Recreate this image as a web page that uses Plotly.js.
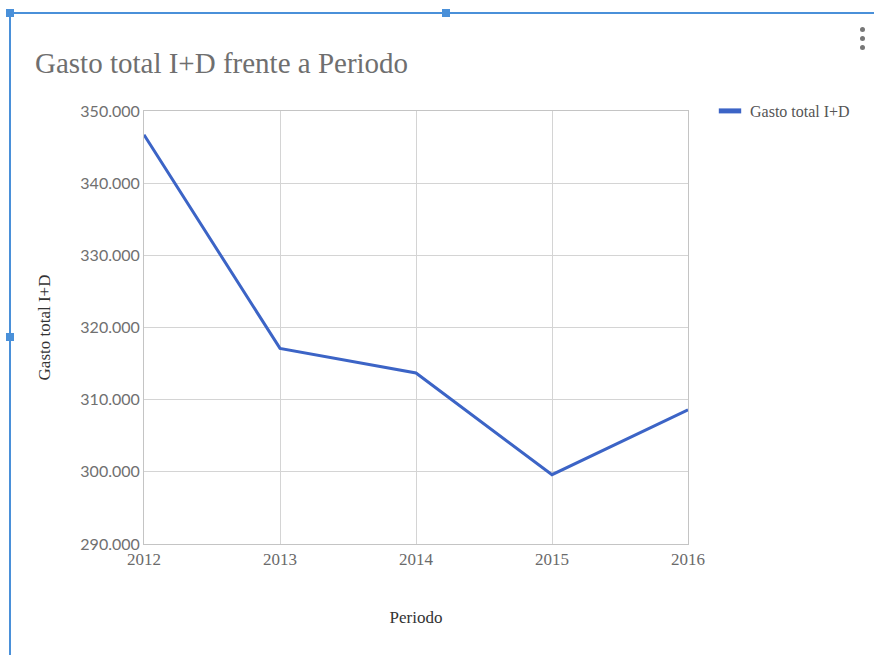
<!DOCTYPE html>
<html>
<head>
<meta charset="utf-8">
<script src="https://cdn.plot.ly/plotly-3.0.1.min.js"></script>
<style>html,body{margin:0;padding:0;background:#fff;}#chart{width:874px;height:655px;}</style>
</head>
<body>
<div id="chart"></div>
<script>
var periodos = [2012, 2013, 2014, 2015, 2016];
var gastoTotal = [346700, 317100, 313700, 299600, 308600];
var serieNombre = "Gasto total I+D";
var tituloGrafico = "Gasto total I+D frente a Periodo";
var tituloX = "Periodo";
var tituloY = "Gasto total I+D";

var serieColor = "#3c64c6";

var trace = {
  x: periodos,
  y: gastoTotal,
  type: "scatter",
  mode: "lines",
  name: serieNombre,
  showlegend: false,
  line: {color: serieColor, width: 3}
};

var legendTrace = {
  x: [null],
  y: [null],
  type: "scatter",
  mode: "markers",
  name: serieNombre,
  showlegend: true,
  marker: {symbol: "line-ew", size: 16, color: serieColor, line: {color: serieColor, width: 5}}
};

var serif = "'Liberation Serif', 'Times New Roman', serif";
var frame = "#4a90d9";

function px(xPix) { return (xPix - 144) / 544; }
function py(yPix) { return (544 - yPix) / 433; }

var layout = {
  width: 874,
  height: 655,
  margin: {l: 144, r: 186, t: 111, b: 111},
  paper_bgcolor: "#ffffff",
  plot_bgcolor: "#ffffff",
  separators: ",.",
  title: {
    text: tituloGrafico,
    font: {family: serif, size: 29, color: "#6f6f6f"},
    xref: "container", x: 35/874, xanchor: "left",
    yref: "container", y: 1 - 63/655, yanchor: "middle"
  },
  xaxis: {
    range: [2012, 2016],
    tickvals: periodos,
    ticktext: periodos.map(String),
    showgrid: true,
    gridcolor: "#d4d4d4",
    showline: true,
    linecolor: "#c4c4c4",
    zeroline: false,
    ticks: "",
    tickfont: {family: serif, size: 17, color: "#6a6a6a"},
    title: {text: tituloX, font: {family: serif, size: 17, color: "#333333"}, standoff: 42},
    mirror: true
  },
  yaxis: {
    range: [290000, 350000],
    dtick: 10000,
    showgrid: true,
    gridcolor: "#d4d4d4",
    showline: true,
    linecolor: "#c4c4c4",
    zeroline: false,
    ticks: "",
    tickformat: ",d",
    tickfont: {family: "Lato, 'Liberation Sans', sans-serif", size: 16, color: "#707070"},
    title: {text: tituloY, font: {family: serif, size: 17, color: "#333333"}, standoff: 25},
    mirror: true
  },
  showlegend: true,
  legend: {
    x: px(710), xanchor: "left",
    y: py(94), yanchor: "top",
    font: {family: serif, size: 16, color: "#555555"},
    itemwidth: 30,
    bgcolor: "rgba(0,0,0,0)"
  },
  shapes: [
    {type: "line", xref: "paper", yref: "paper", x0: px(10), x1: px(874), y0: py(13), y1: py(13), line: {color: frame, width: 2}},
    {type: "line", xref: "paper", yref: "paper", x0: px(10), x1: px(10), y0: py(13), y1: py(655), line: {color: frame, width: 2}},
    {type: "rect", xref: "paper", yref: "paper", x0: px(6), x1: px(14), y0: py(9), y1: py(17), fillcolor: frame, line: {width: 0}},
    {type: "rect", xref: "paper", yref: "paper", x0: px(442), x1: px(450), y0: py(9), y1: py(17), fillcolor: frame, line: {width: 0}},
    {type: "rect", xref: "paper", yref: "paper", x0: px(6), x1: px(14), y0: py(333), y1: py(341), fillcolor: frame, line: {width: 0}},
    {type: "circle", xref: "paper", yref: "paper", x0: px(860), x1: px(865), y0: py(27), y1: py(32), fillcolor: "#777777", line: {width: 0}},
    {type: "circle", xref: "paper", yref: "paper", x0: px(860), x1: px(865), y0: py(36), y1: py(41), fillcolor: "#777777", line: {width: 0}},
    {type: "circle", xref: "paper", yref: "paper", x0: px(860), x1: px(865), y0: py(45), y1: py(50), fillcolor: "#777777", line: {width: 0}}
  ]
};

Plotly.newPlot("chart", [trace, legendTrace], layout, {displayModeBar: false, staticPlot: true});
</script>
</body>
</html>
